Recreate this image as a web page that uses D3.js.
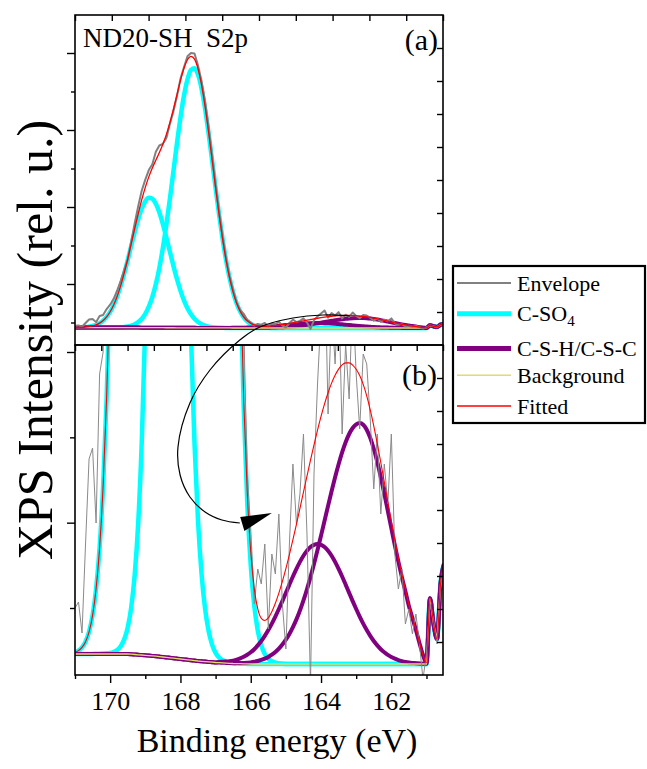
<!DOCTYPE html>
<html>
<head>
<meta charset="utf-8">
<script src="https://cdn.jsdelivr.net/npm/d3@7"></script>
<style>
  html, body { margin: 0; padding: 0; background: #fff; }
  svg { display: block; }
  text { font-family: "Liberation Serif", "Times New Roman", serif; fill: #000; }
</style>
</head>
<body>
<svg id="chart" width="647" height="769"></svg>
<script>
// ---------------- data (binding energy grid, eV) ----------------
const energy = [
171.0,170.9,170.8,170.7,170.6,170.5,170.4,170.3,170.2,170.1,
170.0,169.9,169.8,169.7,169.6,169.5,169.4,169.3,169.2,169.1,
169.0,168.9,168.8,168.7,168.6,168.5,168.4,168.3,168.2,168.1,
168.0,167.9,167.8,167.7,167.6,167.5,167.4,167.3,167.2,167.1,
167.0,166.9,166.8,166.7,166.6,166.5,166.4,166.3,166.2,166.1,
166.0,165.9,165.8,165.7,165.6,165.5,165.4,165.3,165.2,165.1,
165.0,164.9,164.8,164.7,164.6,164.5,164.4,164.3,164.2,164.1,
164.0,163.9,163.8,163.7,163.6,163.5,163.4,163.3,163.2,163.1,
163.0,162.9,162.8,162.7,162.6,162.5,162.4,162.3,162.2,162.1,
162.0,161.9,161.8,161.7,161.6,161.5,161.4,161.3,161.2,161.1,
161.0,160.9,160.8,160.7,160.6,160.5];

// measured envelope (raw spectrum)
const envelope = [
56,62,31,120,205,216,141,290,312,455,
560,700,900,1130,1390,1640,2080,2520,2930,3300,
3560,3790,3930,4230,4380,4420,4560,4900,5200,5560,
5980,6260,6520,6600,6590,6300,5930,5430,4820,4140,
3440,2790,2190,1660,1230,900,610,430,340,190,
135,60,95,80,120,35,110,90,150,60,
15,120,200,140,170,230,130,-20,190,280,
350,420,250,360,300,380,230,320,265,370,
290,235,310,300,245,175,230,150,200,160,
230,110,75,95,40,55,30,50,20,-15,
10,60,45,20,75,95];

// C-SO4 doublet components (above background)
const cso4a = [
1.7,3.4,6.6,12.3,22.1,38.6,65.1,106,168,256,
378,540,747,999,1293,1619,1961,2298,2606,2859,
3034,3115,3095,2974,2766,2488,2166,1824,1486,1171,
893,659,470,325,217,140,87.7,53,31.1,17.6,
9.6,5.1,2.6,1.3,0.6,0.3,0,0,0,0,
0,0,0,0,0,0,0,0,0,0,
0,0,0,0,0,0,0,0,0,0,
0,0,0,0,0,0,0,0,0,0,
0,0,0,0,0,0,0,0,0,0,
0,0,0,0,0,0,0,0,0,0,
0,0,0,0,0,0];
const cso4b = [
0,0,0,0,0,0.1,0.2,0.3,0.5,0.7,
1.0,2.0,4.0,7.8,14.6,26.6,46.9,80.3,133,214,
333,504,736,1045,1437,1915,2474,3097,3758,4420,
5040,5569,5965,6192,6231,6078,5745,5265,4676,4025,
3359,2716,2129,1618,1191,851,588,394,256,162,
98.7,58.4,33.5,18.6,10.0,5.2,2.7,1.3,0.6,0.3,
0,0,0,0,0,0,0,0,0,0,
0,0,0,0,0,0,0,0,0,0,
0,0,0,0,0,0,0,0,0,0,
0,0,0,0,0,0,0,0,0,0,
0,0,0,0,0,0];

// C-S-H / C-S-C components (above background)
const cshA = [
0,0,0,0,0,0,0,0,0,0,
0,0,0,0,0,0,0,0,0,0,
0,0,0,0,0,0,0,0,0,0,
0,0,0,0,0,0,0,0,0,0,
0,0.1,0.1,0.2,0.2,0.3,0.5,0.7,0.9,1.2,
1.6,2.2,3.0,4.1,5.4,7.1,9.3,12.0,15.3,19.4,
24.3,30.0,36.8,44.6,53.5,63.6,74.7,86.9,100.0,113.9,
128.4,143.2,158.1,172.7,186.7,199.8,211.6,221.7,230.0,236.0,
239.7,241,239.3,234.3,226.1,215.2,201.9,186.7,170.3,153.1,
135.8,118.6,102.3,86.9,72.8,58,46,34,21,9,
1,1,0.5,0,0,0];
const cshB = [
0,0,0,0,0,0,0,0,0,0,
0,0,0,0,0,0,0,0,0,0,
0,0,0,0,0,0,0,0,0,0,
0,0,0,0,0,0,0,0,0,0,
0,0.8,1.1,1.5,2.1,2.9,3.9,5.3,7.0,9.1,
11.7,14.8,18.6,23.0,28.1,33.9,40.3,47.4,55.0,62.9,
71.1,79.4,87.5,95.1,102.1,108.2,113.2,116.9,119.2,120,
119.2,116.9,113.2,108.2,102.1,95.1,87.5,79.4,71.1,62.9,
55.0,47.4,40.3,33.9,28.1,23.0,18.6,14.8,11.7,9.1,
7.0,5.3,3.9,2.9,2.1,1.5,1.1,0.8,0.5,0.3,
0.2,0,0,0,0,0];

// background
const background = [
10,10,10,10,10,10,10,10,10,10,
10,10,10,10,10,10,9.8,9.5,9.2,9.0,
8.7,8.4,8.1,7.8,7.4,7.0,6.6,6.2,5.8,5.4,
5.0,4.6,4.2,3.8,3.4,3.0,2.7,2.4,2.1,1.8,
1.5,1.3,1.1,0.9,0.7,0.5,0.4,0.3,0.2,0.1,
0,0,0,0,0,0,0,0,0,0,
0,0,0,0,0,0,0,0,0,0,
0,0,0,0,0,0,0,0,0,0,
0,0,0,0,0,0,0,0,0,0,
0,0,0,0,0,0,0,0,0,0,
0,65,40,25,80,100];

// fitted envelope
const fitted = [
11.7,13.4,16.6,22.3,32.1,48.7,75.3,116.3,178.5,266.7,
389,552,761,1017,1318,1656,2018,2388,2748,3082,
3376,3627,3839,4027,4210,4410,4647,4927,5250,5596,
5938,6233,6439,6521,6451,6221,5835,5320,4709,4044,
3370,2723,2134,1622,1195,855,593,400,264,172,
112,75.4,55.1,45.7,43.5,46.2,52.3,60.7,70.9,82.6,
95.4,109.4,124.3,139.7,155.6,171.8,187.9,203.8,219.2,233.9,
247.6,260.1,271.3,280.9,288.8,294.9,299.1,301.1,301.1,298.9,
294.7,288.4,279.6,268.2,254.2,238.2,220.5,201.5,182.0,162.2,
142.8,123.9,106.2,89.8,74.9,59.5,47.1,34.8,21.5,9.3,
1.2,66,40.5,25,80,100];

const xMajorTicks = [170, 168, 166, 164, 162];
const xMinorTicks = [171, 169, 167, 165, 163, 161];
const legendLabels = ["Envelope", "C-SO4", "C-S-H/C-S-C", "Background", "Fitted"];

// annotation arrow path (energy, intensity on lower-panel scale)
const arrowE = [163.18,163.94,164.80,165.74,166.31,167.16,167.73,168.07,168.01,167.73,167.30,166.82,166.31];
const arrowV = [348,349,346,337,324,294,261,217,189,167,152,144,141];
const arrowHeadE = [165.40,166.30,166.18];
const arrowHeadV = [151,147,133];

// ---------------- layout ----------------
const svg = d3.select("#chart");
const L = 75, R = 443, T = 15, MID = 345, B = 675;
const font = '"Liberation Serif", "Times New Roman", serif';

const x = d3.scaleLinear().domain([171, 160.53]).range([L, R]);
const yTop = d3.scaleLinear().domain([-408, 7512]).range([MID, T]);
const yBot = d3.scaleLinear().domain([-11, 319]).range([B, MID]);

svg.append("rect").attr("width", 647).attr("height", 769).attr("fill", "#fff");

const defs = svg.append("defs");
defs.append("clipPath").attr("id", "clipTop").append("rect")
  .attr("x", L).attr("y", T).attr("width", R - L).attr("height", MID - T);
defs.append("clipPath").attr("id", "clipBot").append("rect")
  .attr("x", L).attr("y", MID).attr("width", R - L).attr("height", B - MID);

const pts = arr => energy.map((e, i) => [e, arr[i]]);
const withBg = arr => energy.map((e, i) => [e, arr[i] + background[i]]);

const series = [
  { data: withBg(cso4a), color: "#00ffff", w: 4.5, curve: d3.curveMonotoneX },
  { data: withBg(cso4b), color: "#00ffff", w: 4.5, curve: d3.curveMonotoneX },
  { data: withBg(cshA), color: "#800080", w: 4, curve: d3.curveMonotoneX },
  { data: withBg(cshB), color: "#800080", w: 4, curve: d3.curveMonotoneX },
  { data: pts(background), color: "#e2dc6a", w: 1.3, curve: d3.curveLinear },
  { data: pts(envelope), color: "#808080", w: 2, wBot: 1, colBot: "#8a8a8a", curve: d3.curveLinear },
  { data: pts(fitted), color: "#ff0000", w: 1.3, wBot: 1.1, curve: d3.curveMonotoneX }
];

function drawPanel(yScale, clipId, bottom) {
  const g = svg.append("g").attr("clip-path", `url(#${clipId})`);
  series.forEach(s => {
    const line = d3.line().x(d => x(d[0])).y(d => yScale(d[1])).curve(s.curve);
    g.append("path").attr("d", line(s.data)).attr("fill", "none")
      .attr("stroke", bottom && s.colBot ? s.colBot : s.color)
      .attr("stroke-width", bottom && s.wBot ? s.wBot : s.w)
      .attr("stroke-linejoin", "round");
  });
}
drawPanel(yTop, "clipTop", false);
drawPanel(yBot, "clipBot", true);

// ---------------- frames ----------------
svg.append("rect").attr("x", L).attr("y", T).attr("width", R - L).attr("height", MID - T)
  .attr("fill", "none").attr("stroke", "#000").attr("stroke-width", 1.6);
svg.append("rect").attr("x", L).attr("y", MID).attr("width", R - L).attr("height", B - MID)
  .attr("fill", "none").attr("stroke", "#000").attr("stroke-width", 1.6);

function styleAxis(g) {
  g.select(".domain").remove();
  g.selectAll(".tick line").attr("stroke", "#000").attr("stroke-width", 1.4);
}

// bottom x axis
svg.append("g").attr("transform", `translate(0,${B})`)
  .call(d3.axisBottom(x).tickValues(xMajorTicks).tickSize(8).tickPadding(9).tickFormat(d3.format("d")))
  .call(styleAxis)
  .call(g => g.selectAll("text").attr("font-family", font).attr("font-size", 26).attr("fill", "#000"));
svg.append("g").attr("transform", `translate(0,${B})`)
  .call(d3.axisBottom(x).tickValues(xMinorTicks).tickSize(4).tickFormat(""))
  .call(styleAxis);

// decorative tick sets of the two layers
const topTick = d3.scaleLinear().domain([0, 10]).range([L, R]);
svg.append("g").attr("transform", `translate(0,${T})`)
  .call(d3.axisBottom(topTick).ticks(10).tickSize(6).tickFormat("")).call(styleAxis);
const midTick = d3.scaleLinear().domain([0, 14]).range([L, R]);
svg.append("g").attr("transform", `translate(0,${MID})`)
  .call(d3.axisBottom(midTick).ticks(14).tickSize(6).tickFormat("")).call(styleAxis);

const leftTop = d3.scaleLinear().domain([0, 8]).range([14.5, 322.5]);
svg.append("g").attr("transform", `translate(${L},0)`)
  .call(d3.axisLeft(leftTop).tickValues([1, 3, 5, 7]).tickSize(8).tickFormat("")).call(styleAxis);
svg.append("g").attr("transform", `translate(${L},0)`)
  .call(d3.axisLeft(leftTop).tickValues([2, 4, 6, 8]).tickSize(4).tickFormat("")).call(styleAxis);
const leftBot = d3.scaleLinear().domain([0, 3]).range([352, 608]);
svg.append("g").attr("transform", `translate(${L},0)`)
  .call(d3.axisLeft(leftBot).tickValues([0, 2]).tickSize(8).tickFormat("")).call(styleAxis);
svg.append("g").attr("transform", `translate(${L},0)`)
  .call(d3.axisLeft(leftBot).tickValues([1, 3]).tickSize(5).tickFormat("")).call(styleAxis);

const rightTop = d3.scaleLinear().domain([0, 10]).range([T, MID]);
svg.append("g").attr("transform", `translate(${R},0)`)
  .call(d3.axisLeft(rightTop).tickValues(d3.range(1, 10)).tickSize(6).tickFormat("")).call(styleAxis);
const rightBot = d3.scaleLinear().domain([0, 10]).range([MID, B]);
svg.append("g").attr("transform", `translate(${R},0)`)
  .call(d3.axisLeft(rightBot).tickValues(d3.range(1, 10)).tickSize(6).tickFormat("")).call(styleAxis);

// ---------------- annotation arrow ----------------
const arrowLine = d3.line().x(d => x(d[0])).y(d => yBot(d[1])).curve(d3.curveCatmullRom);
svg.append("path").attr("d", arrowLine(arrowE.map((e, i) => [e, arrowV[i]])))
  .attr("fill", "none").attr("stroke", "#000").attr("stroke-width", 1.2);
svg.append("polygon")
  .attr("points", arrowHeadE.map((e, i) => `${x(e)},${yBot(arrowHeadV[i])}`).join(" "))
  .attr("fill", "#000");

// ---------------- texts ----------------
svg.append("text").attr("x", 83).attr("y", 47).attr("font-size", 27)
  .attr("xml:space", "preserve").text("ND20-SH  S2p");
svg.append("text").attr("x", 438).attr("y", 50).attr("font-size", 30).attr("text-anchor", "end").text("(a)");
svg.append("text").attr("x", 437).attr("y", 385).attr("font-size", 30).attr("text-anchor", "end").text("(b)");

svg.append("text").attr("x", 277).attr("y", 752).attr("font-size", 34)
  .attr("text-anchor", "middle").text("Binding energy (eV)");
svg.append("text").attr("transform", "translate(52,340) rotate(-90)").attr("font-size", 50)
  .attr("text-anchor", "middle").text("XPS Intensity (rel. u.)");

// ---------------- legend ----------------
const lg = svg.append("g");
lg.append("rect").attr("x", 453).attr("y", 266).attr("width", 192).attr("height", 157)
  .attr("fill", "#fff").attr("stroke", "#000").attr("stroke-width", 2.2);
const legStyles = [
  { color: "#808080", w: 2 }, { color: "#00ffff", w: 5 }, { color: "#800080", w: 5 },
  { color: "#e2dc6a", w: 1.6 }, { color: "#ff0000", w: 1.5 }];
const legY = d3.scalePoint().domain(legendLabels).range([283, 406]);
legendLabels.forEach((lab, i) => {
  const yy = legY(lab) + (i === 2 ? 4 : 0);
  lg.append("line").attr("x1", 457).attr("x2", 511).attr("y1", yy).attr("y2", yy)
    .attr("stroke", legStyles[i].color).attr("stroke-width", legStyles[i].w);
  const t = lg.append("text").attr("x", 517).attr("y", yy + 7.5).attr("font-size", 22);
  if (lab === "C-SO4") {
    t.append("tspan").text("C-SO");
    t.append("tspan").attr("font-size", 15).attr("dy", 5).text("4");
  } else {
    t.text(lab);
  }
});
</script>
</body>
</html>
